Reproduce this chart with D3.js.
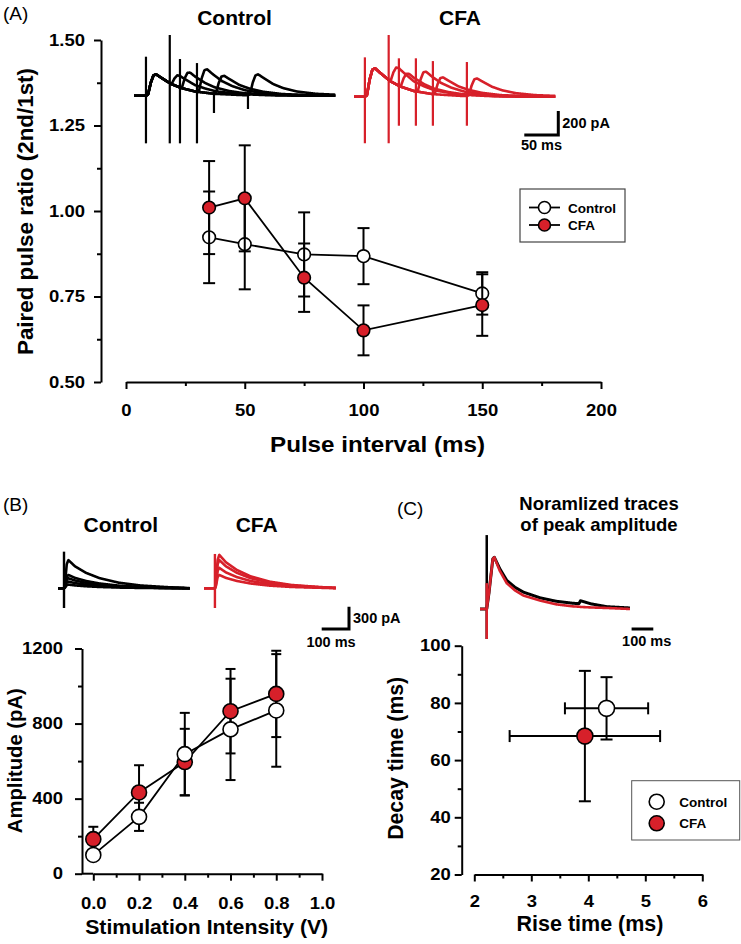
<!DOCTYPE html>
<html>
<head>
<meta charset="utf-8">
<script src="https://cdn.jsdelivr.net/npm/d3@7"></script>
<style>
  body { margin: 0; background: #fff; }
  svg text { font-family: "Liberation Sans", Arial, sans-serif; font-weight: bold; fill: #000; }
  .tick text { font-size: 16.5px; }
  .panel-label { font-weight: normal !important; font-size: 19px; }
</style>
</head>
<body>
<svg id="fig" width="741" height="944"></svg>
<script>
// ---- Panel A: paired pulse ratio ----
const ppIntervals = [35, 50, 75, 100, 150];
const ppControl = [0.923, 0.903, 0.873, 0.868, 0.759];
const ppControlErr = [0.134, 0.132, 0.123, 0.082, 0.062];
const ppCFA = [1.010, 1.037, 0.805, 0.651, 0.725];
const ppCFAErr = [0.136, 0.155, 0.100, 0.073, 0.090];
const ppXTicks = [0, 50, 100, 150, 200];
const ppXMinor = [25, 75, 125, 175];
const ppYTicks = [0.5, 0.75, 1.0, 1.25, 1.5];
const ppYMinor = [0.625, 0.875, 1.125, 1.375];

// example traces A: EPSC shape (ms after stimulus -> fraction of peak)
const ppTplT = [0, 3, 7, 11, 15, 22, 37, 52, 72, 100, 140, 200];
const ppTplF = [0, 0.05, 0.6, 0.95, 1, 0.85, 0.55, 0.36, 0.2, 0.09, 0.03, 0];
const ppFirstAmp = [178, 237];                 // pA: control, CFA
const ppSecondAmpControl = [97, 147, 197, 154, 175];
const ppSecondAmpCFA = [147, 130, 178, 145, 148];
const ppArtUpControl = [325, 506, 306, 272, 30, 30];   // first stimulus, then each interval
const ppArtDownControl = [397, 397, 397, 397, 144, 111];
const ppArtUpCFA = [328, 514, 320, 320, 297, 289];
const ppArtDownCFA = [388, 388, 242, 242, 242, 242];

// ---- Panel B: input-output ----
const stimV = [0, 0.2, 0.4, 0.6, 0.8];
const ampControl = [100, 303, 637, 769, 870];
const ampControlErr = [15, 75, 220, 270, 300];
const ampCFA = [184, 433, 595, 866, 958];
const ampCFAErr = [66, 145, 177, 225, 230];
const ioXTicks = [0, 0.2, 0.4, 0.6, 0.8, 1.0];
const ioXMinor = [0.1, 0.3, 0.5, 0.7, 0.9];
const ioYTicks = [0, 400, 800, 1200];
const ioYMinor = [200, 600, 1000];

// example traces B
const ioTplT = [0, 4, 10, 16, 40, 80, 130, 200, 280, 380, 470];
const ioTplF = [0, 0.2, 0.85, 1, 0.78, 0.55, 0.36, 0.2, 0.1, 0.04, 0];
const ioTraceControl = [380, 180, 135, 90, 50];
const ioTraceCFA = [450, 380, 275, 180];
const ioArtUp = [493, 462];     // control, CFA
const ioArtDown = [265, 265];

// ---- Panel C: kinetics ----
const kinGroups = ["Control", "CFA"];
const riseMean = [4.32, 3.94];
const riseErr = [0.73, 1.32];
const decayMean = [78.1, 68.4];
const decayErr = [10.9, 22.8];
const kinXTicks = [2, 3, 4, 5, 6];
const kinXMinor = [2.5, 3.5, 4.5, 5.5];
const kinYTicks = [20, 40, 60, 80, 100];
const kinYMinor = [30, 50, 70, 90];

// normalized traces C
const normT = [0, 10, 28, 35, 60, 92, 130, 169, 246, 320, 399, 425, 432, 480, 553, 660];
const normControl = [0, 0.3, 0.97, 1, 0.78, 0.555, 0.42, 0.326, 0.216, 0.15, 0.11, 0.105, 0.16, 0.1, 0.045, 0.02];
const normCFA = [0, 0.3, 0.97, 1, 0.74, 0.5, 0.36, 0.26, 0.163, 0.09, 0.05, 0.045, 0.04, 0.03, 0.02, 0];
const normArtUp = [1.43, 0.5];
const normArtDown = [0.58, 0.58];

const RED = "#d7202a";
const TICK_STRETCH = 1.12;
const svg = d3.select("#fig");

// ---------- helpers ----------
function styleAxis(g) {
  g.attr("font-family", null).attr("font-size", null);
  g.select(".domain").attr("stroke", "#000").attr("stroke-width", 2);
  g.selectAll(".tick line").attr("stroke", "#000").attr("stroke-width", 2);
  return g;
}

function drawAxes(opt) {
  const { x, y, xAt, yAt, xTicks, xMinor, yTicks, yMinor, xFmt, yFmt, xPad, yPad } = opt;
  svg.append("g").attr("transform", `translate(0,${xAt})`)
    .call(d3.axisBottom(x).tickValues(xTicks).tickSize(7).tickSizeOuter(0).tickPadding(xPad).tickFormat(xFmt))
    .call(styleAxis)
    .call(g => g.selectAll(".tick text").attr("transform", `scale(${TICK_STRETCH},1)`));
  svg.append("g").attr("transform", `translate(0,${xAt})`)
    .call(d3.axisBottom(x).tickValues(xMinor).tickSize(4).tickFormat(""))
    .call(styleAxis).call(g => g.select(".domain").remove());
  svg.append("g").attr("transform", `translate(${yAt},0)`)
    .call(d3.axisLeft(y).tickValues(yTicks).tickSize(7).tickSizeOuter(0).tickPadding(yPad).tickFormat(yFmt))
    .call(styleAxis)
    .call(g => g.selectAll(".tick text").attr("x", 0)
      .attr("transform", `translate(${-(7 + yPad)},0) scale(${TICK_STRETCH},1)`));
  svg.append("g").attr("transform", `translate(${yAt},0)`)
    .call(d3.axisLeft(y).tickValues(yMinor).tickSize(4).tickFormat(""))
    .call(styleAxis).call(g => g.select(".domain").remove());
}

function label(x, y, txt, size, anchor = "middle", rotate = false, len = null) {
  const t = svg.append("text").attr("text-anchor", anchor).style("font-size", size + "px").text(txt);
  if (rotate) t.attr("transform", `translate(${x},${y}) rotate(-90)`);
  else t.attr("x", x).attr("y", y);
  if (len) t.attr("textLength", len).attr("lengthAdjust", "spacingAndGlyphs");
  return t;
}

function vErr(g, x, y, xs, ys, es, cap, color = "#000") {
  xs.forEach((xv, i) => {
    const cx = x(xv), y1 = y(ys[i] + es[i]), y2 = y(ys[i] - es[i]);
    g.append("line").attr("x1", cx).attr("x2", cx).attr("y1", y1).attr("y2", y2).attr("stroke", color).attr("stroke-width", 2);
    [y1, y2].forEach(yy => g.append("line").attr("x1", cx - cap).attr("x2", cx + cap).attr("y1", yy).attr("y2", yy)
      .attr("stroke", color).attr("stroke-width", 2));
  });
}

function series(g, x, y, xs, ys) {
  g.append("path").datum(xs.map((d, i) => [d, ys[i]]))
    .attr("fill", "none").attr("stroke", "#000").attr("stroke-width", 1.8)
    .attr("d", d3.line().x(d => x(d[0])).y(d => y(d[1])));
}
function markers(g, x, y, xs, ys, fill, r) {
  g.selectAll(null).data(xs.map((d, i) => [d, ys[i]])).join("circle")
    .attr("cx", d => x(d[0])).attr("cy", d => y(d[1])).attr("r", r)
    .attr("fill", fill).attr("stroke", "#000").attr("stroke-width", 1.6);
}

function tpl(T, F) { return d3.scaleLinear().domain(T).range(F).clamp(true); }

function tracePath(g, xT, yT, tMin, tMax, fn, color, w) {
  const ts = d3.range(tMin, tMax + 0.01, 0.5);
  g.append("path").datum(ts)
    .attr("fill", "none").attr("stroke", color).attr("stroke-width", w).attr("stroke-linejoin", "round")
    .attr("d", d3.line().curve(d3.curveBasis).x(t => xT(t)).y(t => yT(fn(t))));
}
function artifact(g, xT, yT, t, up, down, color, w = 2) {
  g.append("line").attr("x1", xT(t)).attr("x2", xT(t)).attr("y1", yT(up)).attr("y2", yT(-down))
    .attr("stroke", color).attr("stroke-width", w);
}
function scaleBar(xT, yT, ms, pA, xr, yb, msText, paText, msLabelX, msLabelY) {
  const w = xT(ms) - xT(0);
  const h = pA == null ? 0 : yT(0) - yT(pA);
  const g = svg.append("g");
  g.append("path").attr("fill", "none").attr("stroke", "#000").attr("stroke-width", 3)
    .attr("d", h ? `M${xr - w},${yb}H${xr}V${yb - h}` : `M${xr - w},${yb}H${xr}`);
  if (paText) label(xr + 4, yb - h / 2 + 5, paText, 14.5, "start");
  label(msLabelX, msLabelY, msText, 14.5);
}

// ================= Panel A =================
label(3, 20, "(A)", 19, "start").attr("class", "panel-label");
label(234.5, 25, "Control", 21);
label(460, 25, "CFA", 21);

const xA = d3.scaleLinear().domain([0, 200]).range([126, 601]);
const yA = d3.scaleLinear().domain([0.5, 1.5]).range([382, 40]);
drawAxes({ x: xA, y: yA, xAt: 382, yAt: 101, xTicks: ppXTicks, xMinor: ppXMinor, yTicks: ppYTicks, yMinor: ppYMinor,
  xFmt: d3.format("d"), yFmt: d3.format(".2f"), xPad: 15, yPad: 9 });
label(377.5, 452, "Pulse interval (ms)", 21.5, "middle", false, 215);
label(33, 211.5, "Paired pulse ratio (2nd/1st)", 22, "middle", true, 287);

// traces A
const fA = tpl(ppTplT, ppTplF);
[[0, 134, 95.7, 17.6, ppSecondAmpControl, ppArtUpControl, ppArtDownControl, "#000"],
 [1, 354, 96.7, 16, ppSecondAmpCFA, ppArtUpCFA, ppArtDownCFA, RED]].forEach(([k, x0, base, s, amp2, up, down, col]) => {
  const xT = d3.scaleLinear().domain([0, 296]).range([x0, x0 + 296 * 0.68]);
  const yT = d3.scaleLinear().domain([0, 200]).range([base, base - 24]);
  const g = svg.append("g");
  ppIntervals.forEach((iv, i) => {
    tracePath(g, xT, yT, 0, 296, t => ppFirstAmp[k] * fA(t - s) + amp2[i] * fA(t - s - iv), col, 2.6);
  });
  artifact(g, xT, yT, s, up[0], down[0], col, 2.2);
  ppIntervals.forEach((iv, i) => artifact(g, xT, yT, s + iv, up[i + 1], down[i + 1], col, 2.2));
  if (k === 1) scaleBar(xT, yT, 50, 200, 558.3, 135, "50 ms", "200 pA", 541.5, 150);
});

// data A
const gA = svg.append("g");
vErr(gA, xA, yA, ppIntervals, ppControl, ppControlErr, 6);
series(gA, xA, yA, ppIntervals, ppControl);
markers(gA, xA, yA, ppIntervals, ppControl, "#fff", 6.3);
vErr(gA, xA, yA, ppIntervals, ppCFA, ppCFAErr, 6);
series(gA, xA, yA, ppIntervals, ppCFA);
markers(gA, xA, yA, ppIntervals, ppCFA, RED, 6.3);

// legend A
const lgA = svg.append("g");
lgA.append("rect").attr("x", 520).attr("y", 189).attr("width", 105).attr("height", 53)
  .attr("fill", "#fff").attr("stroke", "#444").attr("stroke-width", 1.2);
kinGroups.forEach((name, i) => {
  const yy = 207.5 + i * 17.5;
  lgA.append("line").attr("x1", 529).attr("x2", 560).attr("y1", yy).attr("y2", yy).attr("stroke", "#000").attr("stroke-width", 1.8);
  lgA.append("circle").attr("cx", 544.5).attr("cy", yy).attr("r", 6).attr("fill", i ? RED : "#fff").attr("stroke", "#000").attr("stroke-width", 1.6);
  lgA.append("text").attr("x", 568).attr("y", yy + 5).style("font-size", "13.5px").text(name);
});

// ================= Panel B =================
label(3, 511, "(B)", 19, "start").attr("class", "panel-label");
label(120.8, 531.5, "Control", 21);
label(256.7, 531.5, "CFA", 21);

const fB = tpl(ioTplT, ioTplF);
[[0, 58, 22, ioTraceControl, "#000"], [1, 204, 40, ioTraceCFA, RED]].forEach(([k, x0, s, amps, col]) => {
  const xT = d3.scaleLinear().domain([0, 483]).range([x0, x0 + 483 * 0.273]);
  const yT = d3.scaleLinear().domain([0, 300]).range([588.3, 566]);
  const g = svg.append("g");
  amps.forEach(a => tracePath(g, xT, yT, 0, 483, t => a * fB(t - s), col, 2.6));
  artifact(g, xT, yT, s, ioArtUp[k], ioArtDown[k], col, 2.4);
  if (k === 1) scaleBar(xT, yT, 100, 300, 349, 629, "100 ms", "300 pA", 331, 646.5);
});

const xB = d3.scaleLinear().domain([0, 1]).range([93.3, 322]);
const yB = d3.scaleLinear().domain([0, 1200]).range([873.7, 648.5]);
drawAxes({ x: xB, y: yB, xAt: 873.7, yAt: 82, xTicks: ioXTicks, xMinor: ioXMinor, yTicks: ioYTicks, yMinor: ioYMinor,
  xFmt: d3.format(".1f"), yFmt: d3.format("d"), xPad: 17, yPad: 12 });
svg.append("line").attr("x1", 82).attr("x2", 93.3).attr("y1", 873.7).attr("y2", 873.7).attr("stroke", "#000").attr("stroke-width", 2);
label(206.7, 934, "Stimulation Intensity (V)", 21, "middle", false, 243);
label(22, 760.7, "Amplitude (pA)", 20.5, "middle", true, 145);

const gB = svg.append("g");
vErr(gB, xB, yB, stimV, ampCFA, ampCFAErr, 5);
vErr(gB, xB, yB, stimV, ampControl, ampControlErr, 5);
series(gB, xB, yB, stimV, ampCFA);
series(gB, xB, yB, stimV, ampControl);
markers(gB, xB, yB, stimV, ampCFA, RED, 7.5);
markers(gB, xB, yB, stimV, ampControl, "#fff", 7.5);

// ================= Panel C =================
label(397, 515, "(C)", 19, "start").attr("class", "panel-label");
label(599, 510, "Noramlized traces", 18.5);
label(599, 530.5, "of peak amplitude", 18.5);

const xTC = d3.scaleLinear().domain([-31, 660]).range([480, 630]);
const yTC = d3.scaleLinear().domain([0, 1]).range([609, 557.3]);
const gTC = svg.append("g");
const fCc = tpl(normT, normControl), fCf = tpl(normT, normCFA);
artifact(gTC, xTC, yTC, 0, normArtUp[0], normArtDown[0], "#000", 2.5);
tracePath(gTC, xTC, yTC, -31, 660, fCc, "#000", 3);
tracePath(gTC, xTC, yTC, -31, 660, fCf, RED, 2.6);
artifact(gTC, xTC, yTC, 0, normArtUp[1], normArtDown[1], RED, 2.5);
scaleBar(xTC, yTC, 100, null, 653.3, 629, "100 ms", null, 646.7, 646);

const xC = d3.scaleLinear().domain([2, 6]).range([474.3, 702.3]);
const yC = d3.scaleLinear().domain([20, 100]).range([874.5, 645.7]);
drawAxes({ x: xC, y: yC, xAt: 874.5, yAt: 461.7, xTicks: kinXTicks, xMinor: kinXMinor, yTicks: kinYTicks, yMinor: kinYMinor,
  xFmt: d3.format("d"), yFmt: d3.format("d"), xPad: 14, yPad: 4 });
label(590, 931, "Rise time (ms)", 21.5, "middle", false, 147);
label(403, 758.3, "Decay time (ms)", 21.5, "middle", true, 163);

const gC = svg.append("g");
kinGroups.forEach((name, i) => {
  const cx = xC(riseMean[i]), cy = yC(decayMean[i]);
  const x1 = xC(riseMean[i] - riseErr[i]), x2 = xC(riseMean[i] + riseErr[i]);
  const y1 = yC(decayMean[i] + decayErr[i]), y2 = yC(decayMean[i] - decayErr[i]);
  const line = (a, b, c, d) => gC.append("line").attr("x1", a).attr("y1", b).attr("x2", c).attr("y2", d).attr("stroke", "#000").attr("stroke-width", 2);
  line(x1, cy, x2, cy); line(cx, y1, cx, y2);
  line(x1, cy - 6, x1, cy + 6); line(x2, cy - 6, x2, cy + 6);
  line(cx - 6, y1, cx + 6, y1); line(cx - 6, y2, cx + 6, y2);
});
kinGroups.forEach((name, i) => {
  gC.append("circle").attr("cx", xC(riseMean[i])).attr("cy", yC(decayMean[i])).attr("r", 8)
    .attr("fill", i ? RED : "#fff").attr("stroke", "#000").attr("stroke-width", 1.6);
});

// legend C
const lgC = svg.append("g");
lgC.append("rect").attr("x", 631.7).attr("y", 780.7).attr("width", 108).attr("height", 59.3)
  .attr("fill", "#fff").attr("stroke", "#555").attr("stroke-width", 1);
kinGroups.forEach((name, i) => {
  const yy = 801.7 + i * 21.6;
  lgC.append("circle").attr("cx", 656.7).attr("cy", yy).attr("r", 7.5).attr("fill", i ? RED : "#fff").attr("stroke", "#000").attr("stroke-width", 1.6);
  lgC.append("text").attr("x", 679.3).attr("y", yy + 5).style("font-size", "13.5px").text(name);
});
</script>
</body>
</html>
